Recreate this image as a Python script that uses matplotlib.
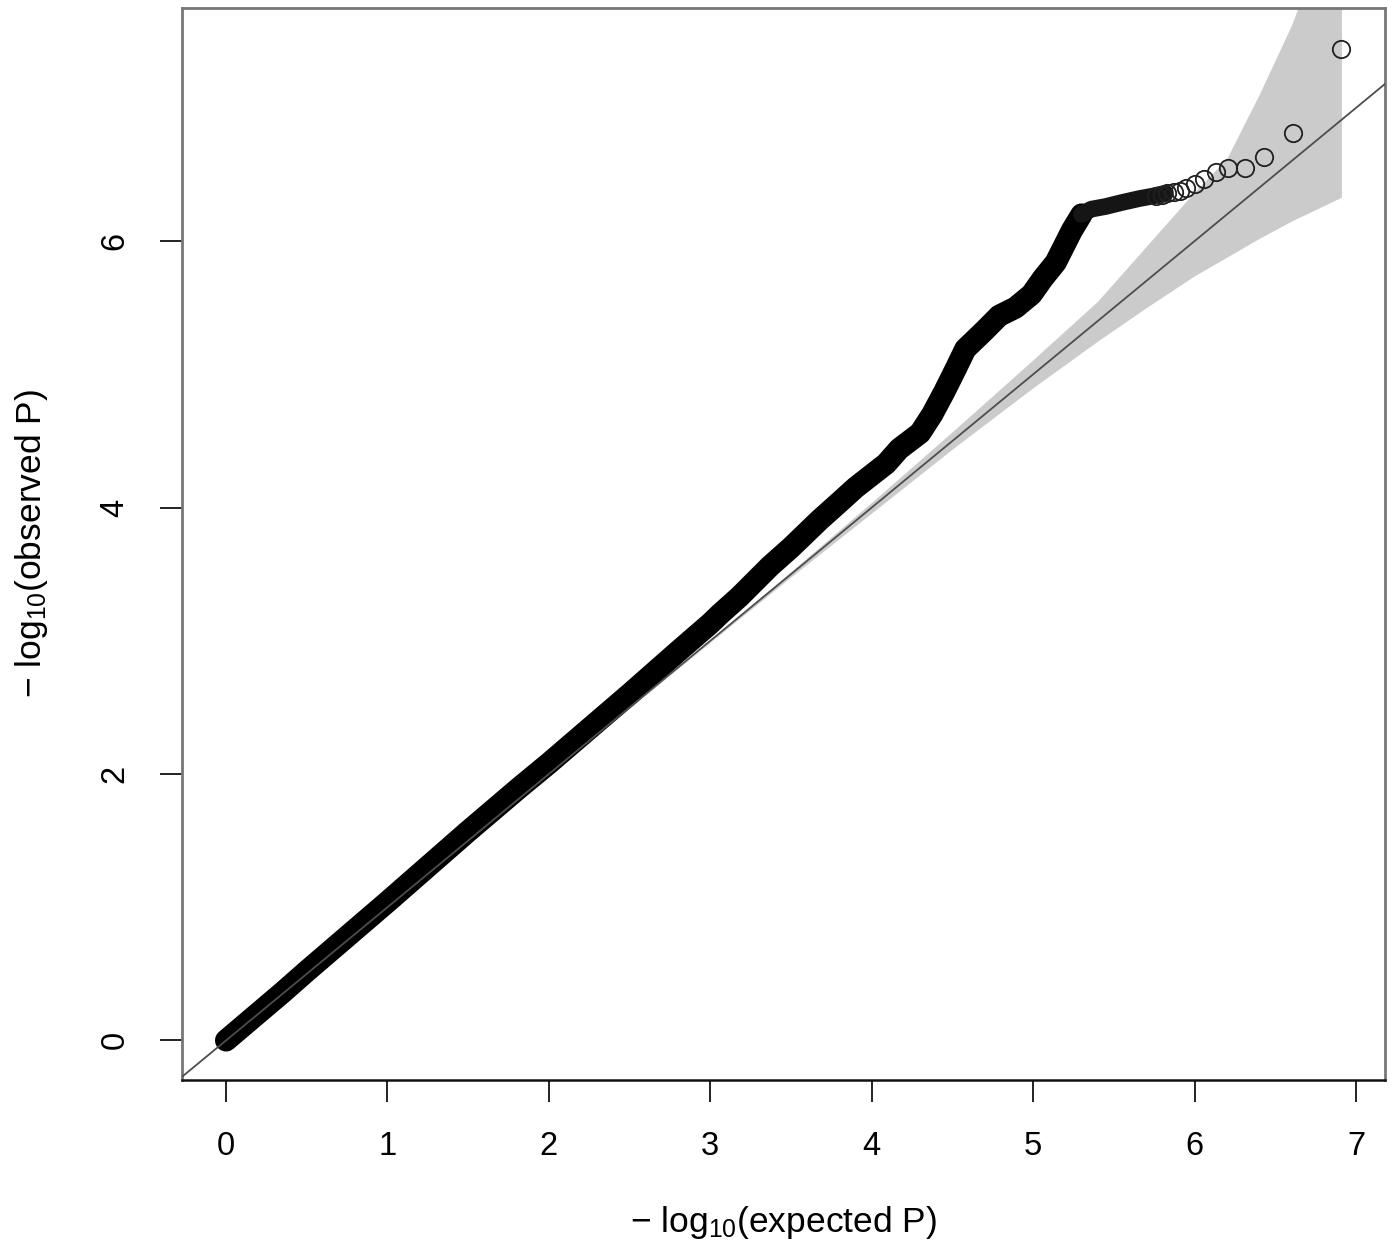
import numpy as np
import matplotlib
matplotlib.use("Agg")
import matplotlib.pyplot as plt

plt.rcParams['font.family'] = ['Liberation Sans', 'DejaVu Sans']
plt.rcParams['mathtext.default'] = 'regular'

# dense part of the QQ curve (read along the middle of the black band)
exp_dense = [0, 0.35, 0.5, 1.0, 1.5, 1.82, 2.0, 2.5, 2.8, 3.0, 3.06, 3.18, 3.37, 3.5, 3.68,
             3.8, 3.9, 4.09, 4.17, 4.3, 4.375, 4.45, 4.52, 4.58, 4.7, 4.79, 4.89, 4.99,
             5.06, 5.14, 5.24, 5.3]
obs_dense = [0, 0.36, 0.52, 1.04, 1.57, 1.9, 2.08, 2.6, 2.92, 3.13, 3.2, 3.33, 3.56, 3.7, 3.91,
             4.04, 4.15, 4.33, 4.44, 4.56, 4.7, 4.87, 5.04, 5.19, 5.33, 5.44, 5.5, 5.6,
             5.72, 5.84, 6.08, 6.2]

# flatter stretch where single circles start to show
exp_mid = [5.3, 5.36, 5.45, 5.55, 5.66, 5.75, 5.82]
obs_mid = [6.2, 6.24, 6.26, 6.29, 6.32, 6.34, 6.36]

# sparse tail of open circles
exp_tail = [5.76, 5.8, 5.83, 5.87, 5.91, 5.95, 6.0, 6.06, 6.13, 6.21, 6.31, 6.43, 6.61, 6.91]
obs_tail = [6.34, 6.35, 6.36, 6.37, 6.38, 6.4, 6.43, 6.47, 6.52, 6.55, 6.55, 6.63, 6.81, 7.44]

# grey confidence band
band_x = [0, 2.0, 3.0, 3.5, 4.0, 4.5, 5.0, 5.4, 5.7, 6.0, 6.2, 6.4, 6.6, 6.91]
band_hi = [0, 2.0, 3.01, 3.52, 4.04, 4.57, 5.11, 5.55, 5.96, 6.37, 6.62, 7.1, 7.62, 8.6]
band_lo = [0, 2.0, 2.99, 3.48, 3.96, 4.44, 4.9, 5.25, 5.5, 5.74, 5.88, 6.02, 6.15, 6.33]

xticks = [0, 1, 2, 3, 4, 5, 6, 7]
yticks = [0, 2, 4, 6]

fig = plt.figure(figsize=(13.98, 12.59), dpi=100)
ax = fig.add_axes([182 / 1398, 179 / 1259, 1203 / 1398, 1072 / 1259])

ax.fill_between(band_x, band_lo, band_hi, color='#cbcbcb', lw=0, zorder=1)

ax.plot(exp_dense, obs_dense, color='black', lw=16, solid_capstyle='round',
        solid_joinstyle='round', zorder=2)
ax.plot(exp_mid, obs_mid, color='#151515', lw=12, solid_capstyle='round', zorder=2)
ax.plot(exp_tail, obs_tail, ls='none', marker='o', ms=12.5, mfc='none',
        mec='#202020', mew=1.3, zorder=3)

ax.axline((0, 0), slope=1, color='#4d4d4d', lw=1.3, zorder=4)

ax.set_xlim(-0.273, 7.18)
ax.set_ylim(-0.297, 7.75)
ax.set_xticks(xticks)
ax.set_yticks(yticks)
ax.tick_params(direction='out', length=16, width=1.4, pad=21, labelsize=23.5,
               color='#222222')
for lbl in ax.get_yticklabels():
    lbl.set_rotation(90)
    lbl.set_va('center')

for side in ['left', 'top', 'right']:
    ax.spines[side].set_color('#777777')
    ax.spines[side].set_linewidth(2)
ax.spines['bottom'].set_color('#111111')
ax.spines['bottom'].set_linewidth(1.8)

ax.set_xlabel('\u2212 log$_{10}$(expected P)', fontsize=25.5, labelpad=30)
ax.set_ylabel('\u2212 log$_{10}$(observed P)', fontsize=25.5, labelpad=36)

fig.savefig('out.png', dpi=100)
